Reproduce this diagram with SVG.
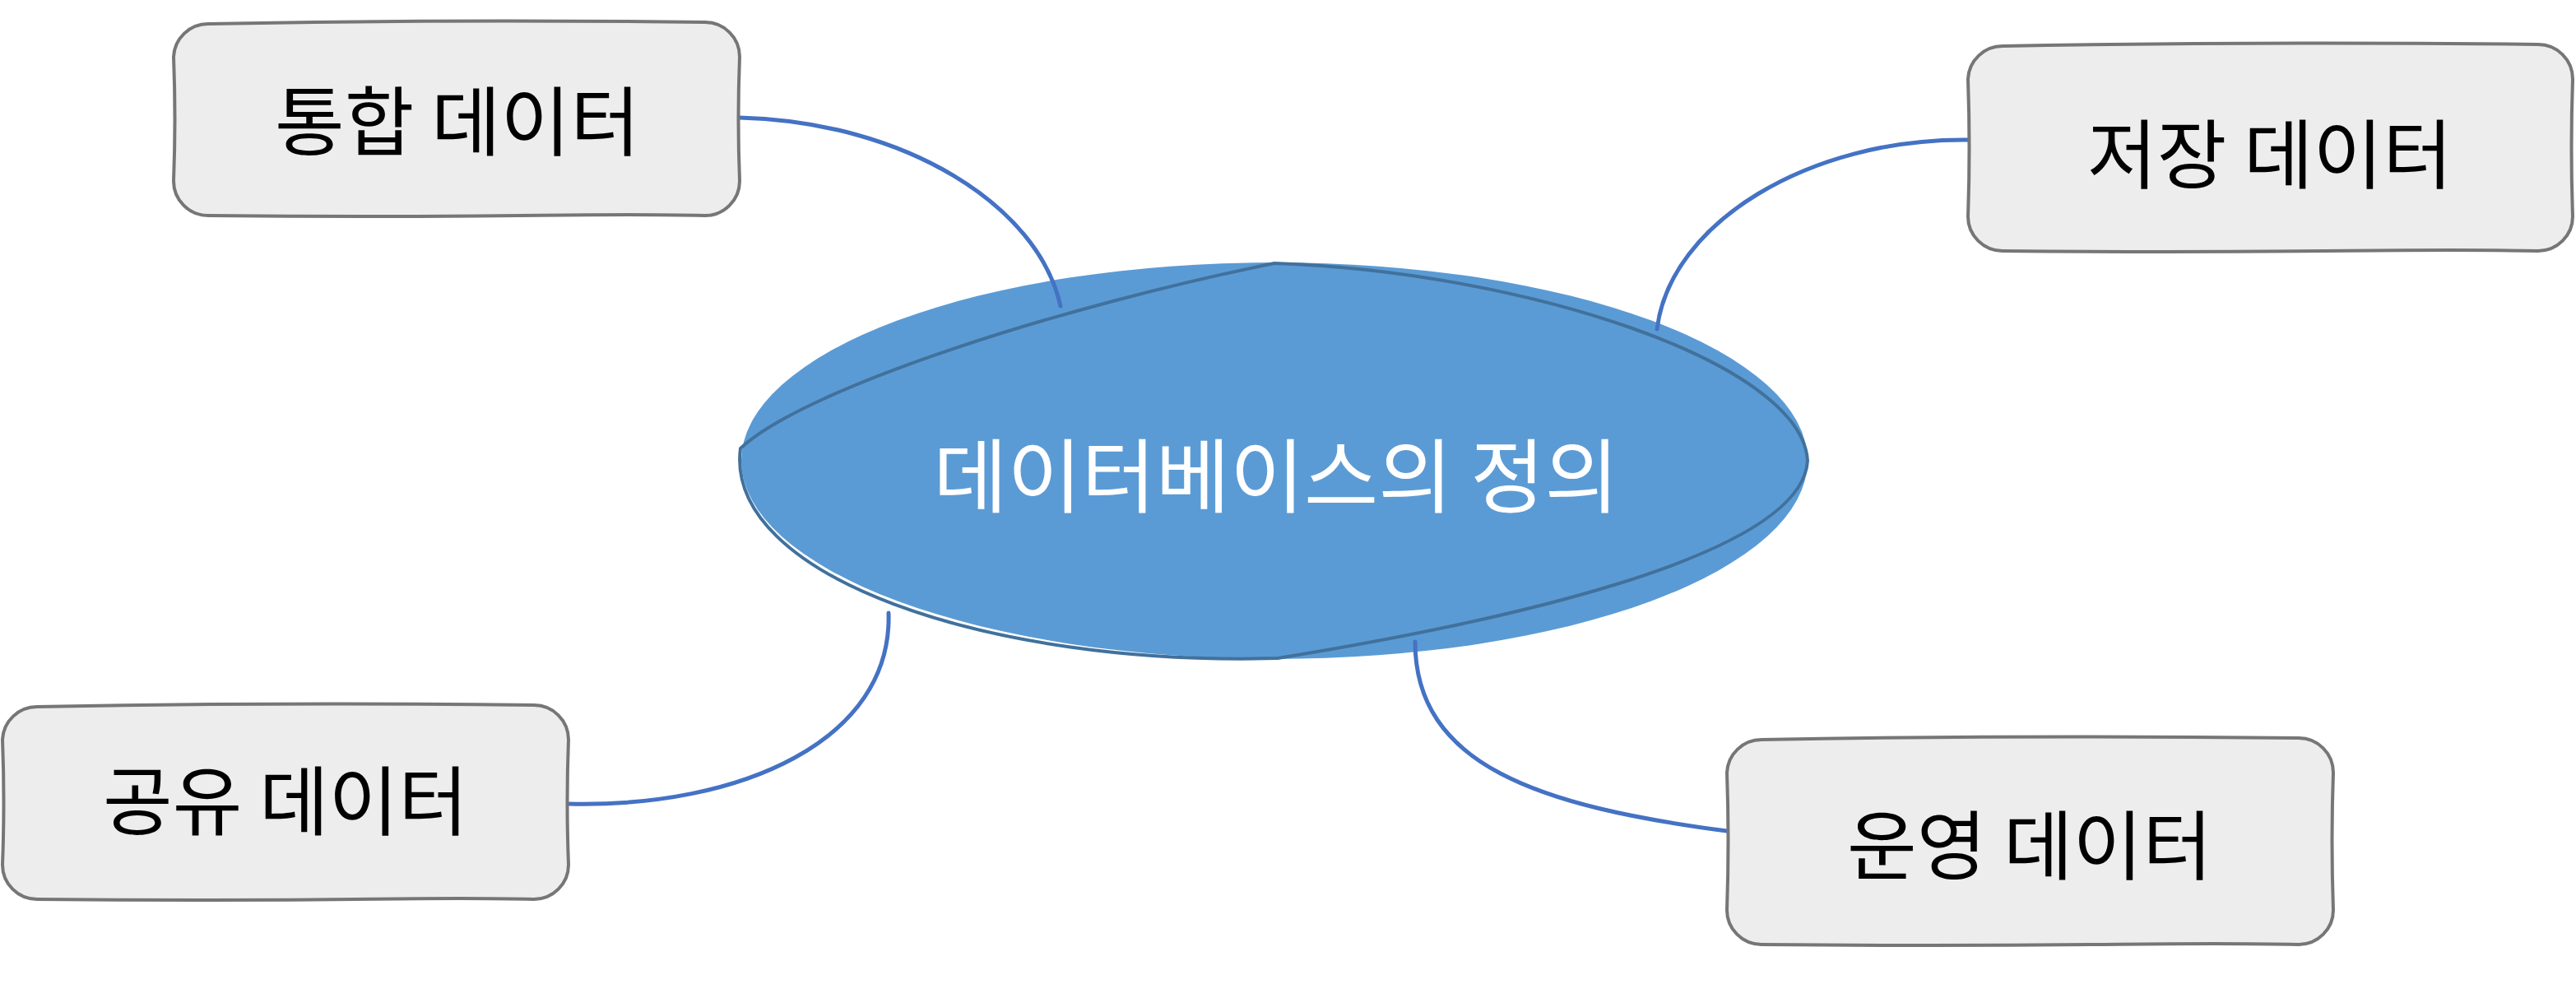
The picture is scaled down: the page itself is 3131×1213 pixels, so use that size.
<svg xmlns="http://www.w3.org/2000/svg" width="3131" height="1213" viewBox="0 0 3131 1213">
  <style>
    .box { fill: #EDEDED; stroke: #767676; stroke-width: 4; stroke-linejoin: round; }
    .lbl { font-family: "Noto Sans CJK KR", "Noto Sans", sans-serif; font-size: 92px; fill: #000000; text-anchor: middle; }
    .conn { fill: none; stroke: #4472C4; stroke-width: 5; stroke-linecap: round; }
    .center-fill { fill: #5B9BD5; }
    .center-line { fill: none; stroke: #41719C; stroke-width: 4; stroke-linejoin: round; }
    .center-lbl { font-family: "Noto Sans CJK KR", "Noto Sans", sans-serif; font-size: 98px; fill: #FFFFFF; text-anchor: middle; }
  </style>

  <g id="center-fill-group">
    <ellipse class="center-fill" cx="1549" cy="560" rx="648" ry="241"/>
  </g>

  <g id="connectors">
    <path class="conn" d="M899,143 C1100,148 1262,250 1289,372"/>
    <path class="conn" d="M2392,170 C2200,168 2030,270 2014,400"/>
    <path class="conn" d="M691,977 C900,982 1085,900 1080,745"/>
    <path class="conn" d="M2099,1010 C1870,980 1720,930 1720,780"/>
  </g>

  <g id="node-center">
    <path class="center-line" d="M1549,320 C1300,370 980,470 900,545 C880,700 1200,810 1553,800 C1800,760 2190,680 2197,560 C2190,440 1850,330 1549,320 Z"/>
    <text class="center-lbl" x="1551" y="615">데이터베이스의 정의</text>
  </g>

  <g id="node-tonghap">
    <path class="box" d="M253,29 Q555,23 857,27 A42,42 0 0 1 899,69 Q896,145 899,220 A42,42 0 0 1 857,262 C700,258 620,266 253,262 A42,42 0 0 1 211,220 Q214,145 211,69 A42,42 0 0 1 253,29 Z"/>
    <text class="lbl" x="556" y="182">통합 데이터</text>
  </g>

  <g id="node-jeojang">
    <path class="box" d="M2434,56 Q2760,50 3085,54 A42,42 0 0 1 3127,96 Q3124,180 3127,263 A42,42 0 0 1 3085,305 C2900,301 2820,309 2434,305 A42,42 0 0 1 2392,263 Q2395,180 2392,96 A42,42 0 0 1 2434,56 Z"/>
    <text class="lbl" x="2759" y="222">저장 데이터</text>
  </g>

  <g id="node-gongyu">
    <path class="box" d="M45,859 Q347,853 649,857 A42,42 0 0 1 691,899 Q688,975 691,1051 A42,42 0 0 1 649,1093 C500,1089 420,1097 45,1093 A42,42 0 0 1 3,1051 Q6,975 3,899 A42,42 0 0 1 45,859 Z"/>
    <text class="lbl" x="347" y="1008">공유 데이터</text>
  </g>

  <g id="node-unyeong">
    <path class="box" d="M2141,899 Q2467,893 2794,897 A42,42 0 0 1 2836,939 Q2833,1022 2836,1106 A42,42 0 0 1 2794,1148 C2620,1144 2540,1152 2141,1148 A42,42 0 0 1 2099,1106 Q2102,1022 2099,939 A42,42 0 0 1 2141,899 Z"/>
    <text class="lbl" x="2467" y="1062">운영 데이터</text>
  </g>
</svg>
